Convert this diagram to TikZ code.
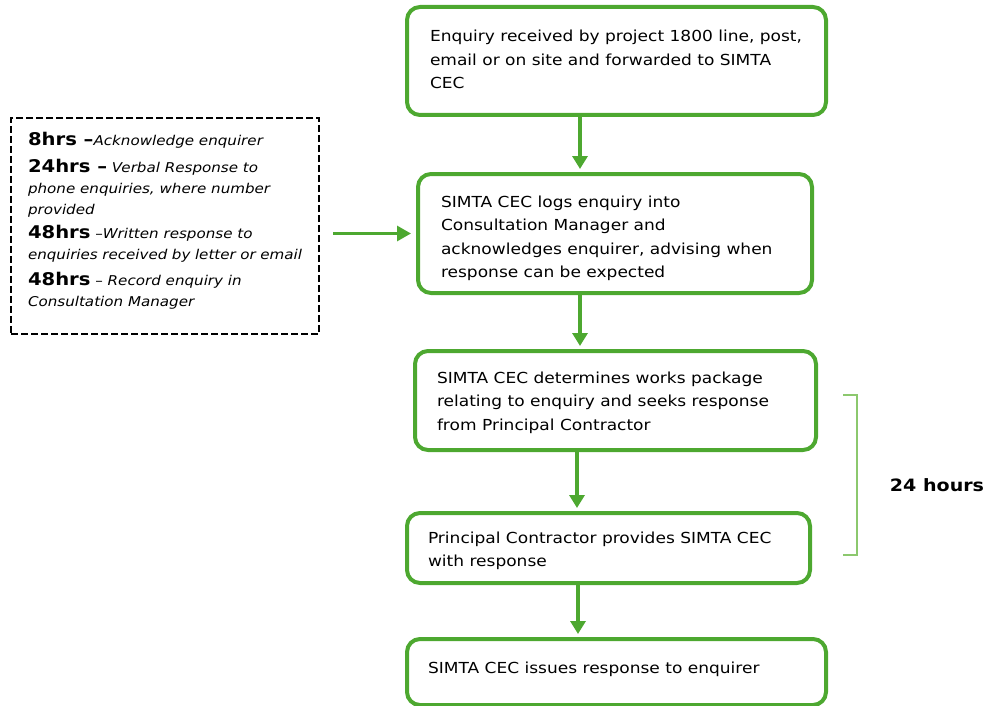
\documentclass[tikz,border=0pt]{standalone}
\usepackage{fontspec}
\setmainfont{DejaVu Sans}[FakeStretch=1.12]
\usepackage{xcolor}
\usepackage{tikz}
\usetikzlibrary{arrows.meta}
\definecolor{flowgreen}{RGB}{77,168,48}
\definecolor{bracketgreen}{RGB}{140,200,110}
\newcommand{\boxtext}[3]{\parbox[c][#2][t]{#1}{\raggedright\strut #3}}
\newcommand{\hrs}[1]{{\fontsize{17.5}{21}\selectfont\bfseries #1}}
\tikzset{
	main node/.style={draw=flowgreen,line width=4pt,rounded corners=13pt,inner sep=0pt,outer sep=0pt,
		anchor=north west,font=\fontsize{15.2}{23.5}\selectfont},
	note node/.style={draw=black,line width=2pt,dash pattern=on 7pt off 3pt,inner sep=0pt,outer sep=0pt,
		anchor=north west,font=\fontsize{13.5}{21}\selectfont},
	flow arrow/.style={draw=flowgreen,line width=4pt,-{Triangle[width=15pt,length=13pt]},shorten >=5pt},
	link arrow/.style={draw=flowgreen,line width=3pt,-{Triangle[width=15pt,length=14pt]},shorten >=7pt},
	bracket line/.style={draw=bracketgreen,line width=1.2pt}
}

\begin{document}
\begin{tikzpicture}[x=1pt,y=-1pt]
	\useasboundingbox (0,0) rectangle (987,706);
	\node [main node,minimum width=419pt,minimum height=108pt] (1) at (407,7)
		{\boxtext{373pt}{70.9pt}{Enquiry received by project 1800 line, post,\\ email or on site and forwarded to SIMTA\\ CEC}};
	\node [main node,minimum width=394pt,minimum height=119pt] (2) at (418,174)
		{\boxtext{348pt}{85.9pt}{SIMTA CEC logs enquiry into\\ Consultation Manager and\\ acknowledges enquirer, advising when\\ response can be expected}};
	\node [main node,minimum width=401pt,minimum height=99pt] (3) at (415,351)
		{\boxtext{357pt}{67.9pt}{SIMTA CEC determines works package\\ relating to enquiry and seeks response\\ from Principal Contractor}};
	\node [main node,minimum width=403pt,minimum height=70pt] (4) at (407,513)
		{\boxtext{361pt}{42.9pt}{Principal Contractor provides SIMTA CEC\\ with response}};
	\node [main node,minimum width=419pt,minimum height=66pt] (5) at (407,639)
		{\boxtext{377pt}{30.9pt}{SIMTA CEC issues response to enquirer}};
	\node [note node,minimum width=308pt,minimum height=216pt] (6) at (11,118)
		{\boxtext{274pt}{191.4pt}{\hrs{8hrs --}\textit{Acknowledge enquirer}\\[6pt]
		\hrs{24hrs --} \textit{Verbal Response to}\\
		\textit{phone enquiries, where number}\\
		\textit{provided}\\[3pt]
		\hrs{48hrs} --\textit{Written response to}\\
		\textit{enquiries received by letter or email}\\[5pt]
		\hrs{48hrs} -- \textit{Record enquiry in}\\
		\textit{Consultation Manager}}};
	\node [font=\fontsize{17}{20}\selectfont\bfseries] (7) at (937,485) {24 hours};
	\draw [flow arrow] ([xshift=173pt]1.south west) -- ([xshift=173pt]1.south west |- 2.north);
	\draw [flow arrow] ([xshift=162pt]2.south west) -- ([xshift=162pt]2.south west |- 3.north);
	\draw [flow arrow] ([xshift=162pt]3.south west) -- ([xshift=162pt]3.south west |- 4.north);
	\draw [flow arrow] ([xshift=171pt]4.south west) -- ([xshift=171pt]4.south west |- 5.north);
	\draw [link arrow] ([xshift=14pt]6.east |- 2.west) -- (2.west);
	\draw [bracket line] (843,395) -- (857,395) -- (857,555) -- (843,555);
\end{tikzpicture}
\end{document}
